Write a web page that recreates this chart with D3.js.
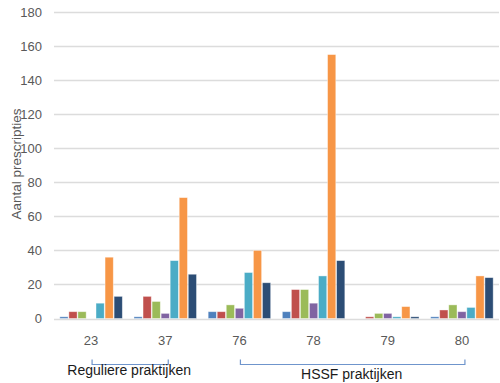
<!DOCTYPE html>
<html>
<head>
<meta charset="utf-8">
<script src="https://cdn.jsdelivr.net/npm/d3@7"></script>
<style>
  html, body { margin: 0; padding: 0; background: #fff; }
  svg { display: block; }
</style>
</head>
<body>
<svg id="chart" width="500" height="383"></svg>
<script>
// Practices (x categories)
const categories = ["23", "37", "76", "78", "79", "80"];
// Seven series, one value per practice
const series1 = [1, 1, 4, 4, 0, 1];
const series2 = [4, 13, 4, 17, 1, 5];
const series3 = [4, 10, 8, 17, 3, 8];
const series4 = [0, 3, 6, 9, 3, 4];
const series5 = [9, 34, 27, 25, 1, 6.5];
const series6 = [36, 71, 40, 155, 7, 25];
const series7 = [13, 26, 21, 34, 1, 24];
const seriesColors = ["#4F81BD", "#C0504D", "#9BBB59", "#8064A2", "#4BACC6", "#F79646", "#2C4D75"];
const yTicks = [0, 20, 40, 60, 80, 100, 120, 140, 160, 180];
const groups = [
  { label: "Reguliere praktijken", from: "23", to: "37" },
  { label: "HSSF praktijken", from: "76", to: "80" }
];

const allSeries = [series1, series2, series3, series4, series5, series6, series7];
const svg = d3.select("#chart");

const x = d3.scaleBand().domain(categories).range([54, 499]).paddingInner(0).paddingOuter(0);
const y = d3.scaleLinear().domain([0, 180]).range([318.5, 12]);
const inner = d3.scaleBand().domain(d3.range(allSeries.length))
  .range([0, x.bandwidth()]).paddingOuter(0.6).paddingInner(0);

// gridlines
svg.append("g").selectAll("line").data(yTicks).join("line")
  .attr("x1", 54).attr("x2", 499)
  .attr("y1", d => Math.round(y(d)) + 0.5).attr("y2", d => Math.round(y(d)) + 0.5)
  .attr("stroke", "#DCDCDC").attr("stroke-width", 1.3);

// y tick labels
svg.append("g").selectAll("text").data(yTicks).join("text")
  .attr("x", 42).attr("y", d => y(d))
  .attr("dy", "0.35em").attr("text-anchor", "end")
  .attr("font-family", "Liberation Sans, Arial, sans-serif").attr("font-size", 13)
  .attr("fill", "#595959").text(d => d);

// y axis title
svg.append("text")
  .attr("transform", "translate(21,164) rotate(-90)")
  .attr("text-anchor", "middle")
  .attr("font-family", "Liberation Sans, Arial, sans-serif").attr("font-size", 13.5)
  .attr("fill", "#595959").text("Aantal prescripties");

// bars
const rows = categories.map((c, i) => ({ c, vals: allSeries.map(s => s[i]) }));
const g = svg.append("g").selectAll("g").data(rows).join("g")
  .attr("transform", d => `translate(${x(d.c)},0)`);
g.selectAll("rect").data(d => d.vals.map((v, k) => ({ v, k }))).join("rect")
  .filter(d => d.v > 0)
  .attr("x", d => inner(d.k) + 0.4)
  .attr("width", inner.bandwidth() - 0.8)
  .attr("y", d => y(d.v))
  .attr("height", d => y(0) - y(d.v))
  .attr("fill", d => seriesColors[d.k])
  .attr("stroke", "#ffffff").attr("stroke-opacity", 0.5).attr("stroke-width", 0.8);

// x tick labels
svg.append("g").selectAll("text").data(categories).join("text")
  .attr("x", d => x(d) + x.bandwidth() / 2).attr("y", 340)
  .attr("dy", "0.35em").attr("text-anchor", "middle")
  .attr("font-family", "Liberation Sans, Arial, sans-serif").attr("font-size", 13)
  .attr("fill", "#595959").text(d => d);

// group brackets and labels
const bg = svg.append("g").selectAll("g").data(groups).join("g");
bg.append("path")
  .attr("d", d => {
    const x0 = x(d.from) + x.bandwidth() / 2 + 1, x1 = x(d.to) + x.bandwidth() / 2 + 3;
    return `M${x0},359.5 V364.5 H${x1} V359.5`;
  })
  .attr("fill", "none").attr("stroke", "#6F95CC").attr("stroke-width", 1.2);
bg.append("text")
  .attr("x", d => (x(d.from) + x(d.to) + x.bandwidth()) / 2 + 1)
  .attr("y", (d, i) => i === 0 ? 375 : 379)
  .attr("text-anchor", "middle")
  .attr("font-family", "Liberation Sans, Arial, sans-serif").attr("font-size", 14)
  .attr("fill", "#1a1a1a").text(d => d.label);
</script>
</body>
</html>
